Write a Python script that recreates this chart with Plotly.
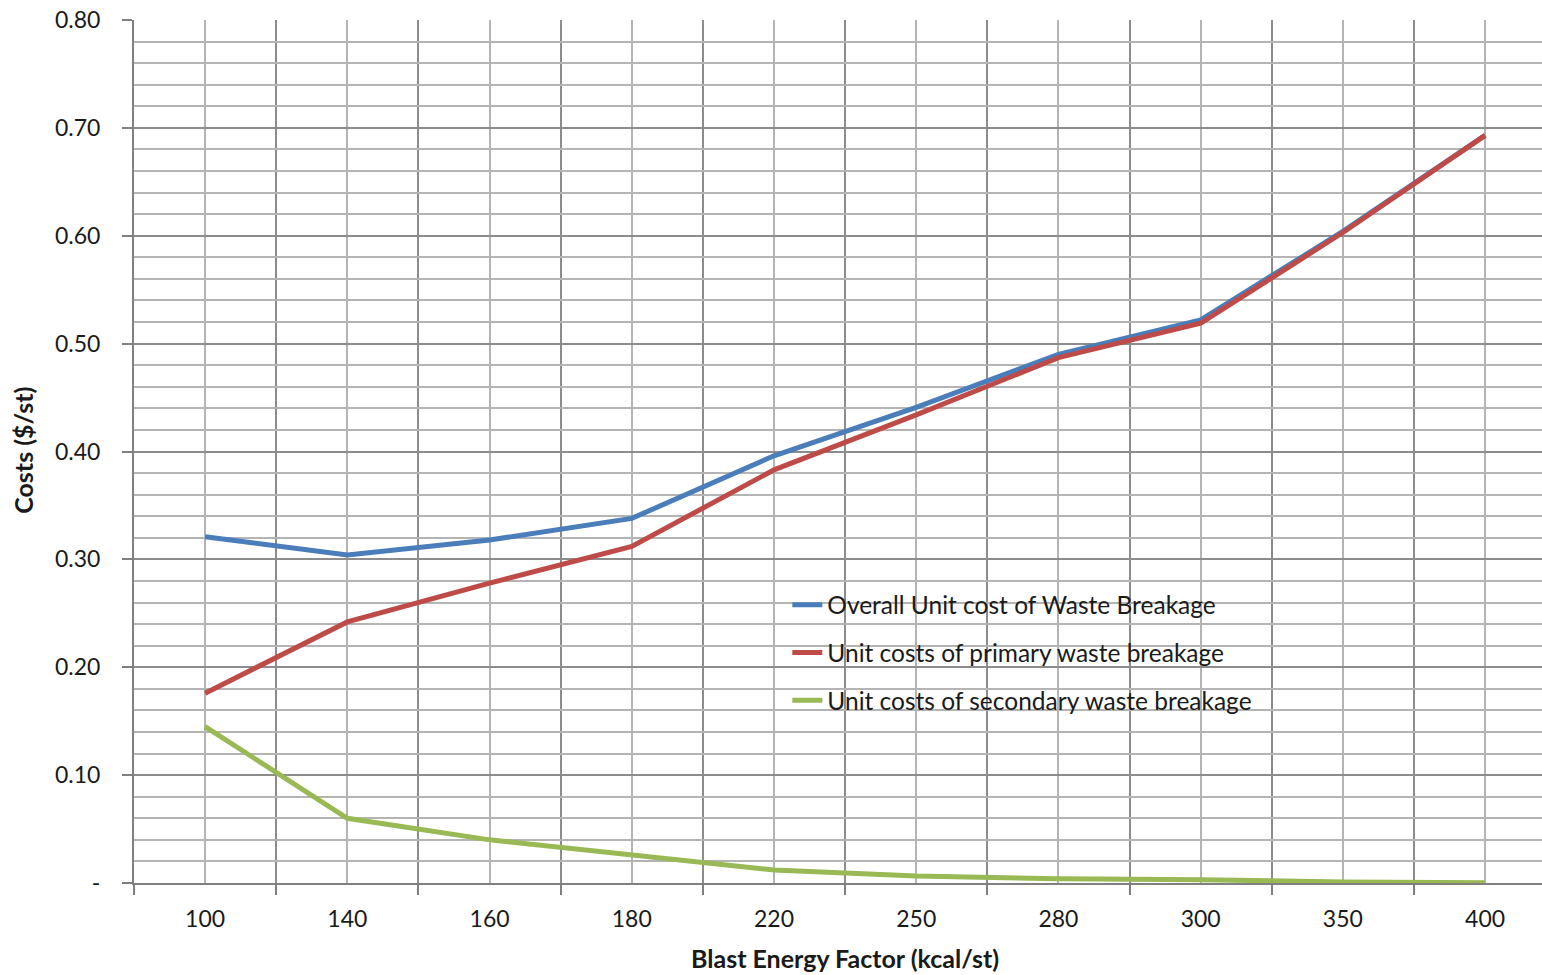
import plotly.graph_objects as go

# Blast energy factor categories (kcal/st)
energy_factor = ["100", "140", "160", "180", "220", "250", "280", "300", "350", "400"]

# Unit costs ($/st)
overall_cost = [0.321, 0.304, 0.318, 0.338, 0.396, 0.441, 0.490, 0.522, 0.604, 0.693]
primary_cost = [0.176, 0.242, 0.278, 0.312, 0.383, 0.434, 0.487, 0.519, 0.603, 0.693]
secondary_cost = [0.145, 0.060, 0.040, 0.026, 0.012, 0.0065, 0.004, 0.003, 0.001, 0.0003]

series_names = [
    "Overall Unit cost of Waste Breakage",
    "Unit costs of primary waste breakage",
    "Unit costs of secondary waste breakage",
]
series_colors = ["#4a7ebb", "#be4b48", "#98b954"]

y_tick_values = [0, 0.1, 0.2, 0.3, 0.4, 0.5, 0.6, 0.7, 0.8]
y_tick_labels = ["-", "0.10", "0.20", "0.30", "0.40", "0.50", "0.60", "0.70", "0.80"]

FONT = "Lato"
x_pos = list(range(len(energy_factor)))

fig = go.Figure()
for i, (name, vals, col) in enumerate(
    zip(series_names, [overall_cost, primary_cost, secondary_cost], series_colors)
):
    fig.add_trace(
        go.Scatter(
            x=x_pos,
            y=vals,
            mode="lines",
            name=name,
            legendgroup=f"g{i}",
            line=dict(color=col, width=5),
        )
    )

boundaries = [i - 0.5 for i in range(len(energy_factor) + 1)]

fig.update_layout(
    width=1542,
    height=975,
    margin=dict(l=134, r=0, t=20, b=92),
    paper_bgcolor="white",
    plot_bgcolor="white",
    font=dict(family=FONT, size=23, color="#1a1a1a"),
    showlegend=True,
    legend=dict(
        x=0.464,
        y=0.3485,
        xanchor="left",
        yanchor="top",
        bgcolor="rgba(0,0,0,0)",
        font=dict(family=FONT, size=24.5, color="#1a1a1a"),
        tracegroupgap=13,
        traceorder="grouped",
    ),
    xaxis=dict(
        range=[-0.5, 9.40],
        tickmode="array",
        tickvals=x_pos,
        ticktext=energy_factor,
        ticks="",
        showgrid=True,
        gridcolor="#b4b4b4",
        gridwidth=1.5,
        showline=True,
        linecolor="#808080",
        linewidth=2,
        zeroline=False,
        ticklabelstandoff=14,
        tickfont=dict(size=23),
        minor=dict(
            tickmode="array",
            tickvals=boundaries,
            showgrid=True,
            gridcolor="#8c8c8c",
            gridwidth=1.5,
            ticks="outside",
            ticklen=10,
            tickcolor="#808080",
            tickwidth=2,
        ),
    ),
    yaxis=dict(
        range=[0, 0.8],
        tickmode="array",
        tickvals=y_tick_values,
        ticktext=y_tick_labels,
        ticks="outside",
        ticklen=10,
        tickcolor="#808080",
        tickwidth=2,
        showgrid=True,
        gridcolor="#8c8c8c",
        gridwidth=1.5,
        showline=True,
        linecolor="#808080",
        linewidth=2,
        zeroline=False,
        ticklabelstandoff=17,
        tickfont=dict(size=23),
        minor=dict(
            dtick=0.02,
            showgrid=True,
            gridcolor="#b4b4b4",
            gridwidth=1.5,
        ),
    ),
    annotations=[
        dict(
            text="<b>Blast Energy Factor (kcal/st)</b>",
            xref="paper",
            yref="paper",
            x=(845 - 134) / 1408,
            y=-0.087,
            xanchor="center",
            yanchor="middle",
            showarrow=False,
            font=dict(family=FONT, size=25, color="#1a1a1a"),
        ),
        dict(
            text="<b>Costs ($/st)</b>",
            xref="paper",
            yref="paper",
            x=-0.079,
            y=(883 - 450) / 863,
            xanchor="center",
            yanchor="middle",
            textangle=-90,
            showarrow=False,
            font=dict(family=FONT, size=25, color="#1a1a1a"),
        ),
    ],
)

fig.write_html("out.html")
